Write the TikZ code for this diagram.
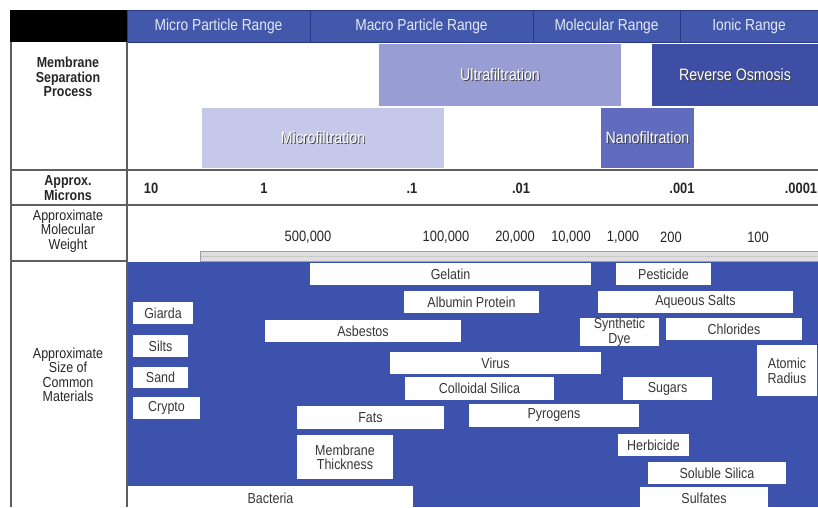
\documentclass[tikz,border=0pt]{standalone}
\usepackage{fontspec}
\setmainfont{Liberation Sans}[FakeStretch=0.86]
\usepackage{xcolor}
\usepackage{tikz}

\definecolor{hdrblue}{RGB}{66,88,170}
\definecolor{hdrline}{RGB}{40,56,130}
\definecolor{hdrtext}{RGB}{228,231,246}
\definecolor{matblue}{RGB}{60,82,172}
\definecolor{ultrablue}{RGB}{152,158,212}
\definecolor{microblue}{RGB}{198,200,233}
\definecolor{nanoblue}{RGB}{98,108,190}
\definecolor{roblue}{RGB}{62,78,165}
\definecolor{gridgray}{RGB}{95,95,95}
\definecolor{matgray}{RGB}{55,55,55}

\newcommand{\shadowtxt}[1]{\makebox[0pt][l]{\raisebox{-0.9pt}{\hspace{0.9pt}\textcolor{black!75}{#1}}}#1}

\begin{document}
\begin{tikzpicture}[
            x=1pt,y=-1pt,
            cell/.style={inner sep=0pt,outer sep=0pt},
            rangecell/.style={cell,fill=hdrblue,draw=hdrline,line width=1pt,text=hdrtext,
                font=\fontsize{16}{18}\selectfont},
            procbox/.style={cell,text=white,font=\fontsize{16.5}{18}\selectfont},
            matbox/.style={cell,fill=white,text=matgray,align=center,
                font=\fontsize{14.5}{14}\selectfont},
            rowlabel/.style={align=center,text=black!85,font=\fontsize{14.5}{14.5}\selectfont},
            scalelabel/.style={text=black!85,font=\fontsize{15}{15}\selectfont},
            gridline/.style={draw=gridgray,line width=1.1pt}
        ]

            \useasboundingbox[fill=white] (0,0) rectangle (818,507);

            % Header row
            \node[cell,fill=black,minimum width=117pt,minimum height=32pt] (corner) at (68.5,26) {};
            \foreach \name/\x/\w/\txt in {micro/218.5/183/Micro Particle Range,
                    macro/421.5/223/Macro Particle Range,
                    molec/606.5/147/Molecular Range,
                    ionic/749/138/Ionic Range}
                \node[rangecell,minimum width=\w pt,minimum height=32pt] (\name) at (\x,26) {\txt};

            % Materials area
            \fill[matblue] (127,262) rectangle (818,507);

            % Table lines
            \draw[gridline] (11,42) -- (11,507);
            \draw[gridline] (127,42) -- (127,507);
            \draw[gridline] (11,170) -- (818,170);
            \draw[gridline] (11,205) -- (818,205);
            \draw[gridline] (11,261) -- (127,261);

            % Membrane processes
            \node[procbox,fill=ultrablue,minimum width=242pt,minimum height=62pt] (ultra) at (500,75) {\shadowtxt{Ultrafiltration}};
            \node[procbox,fill=roblue,minimum width=166pt,minimum height=62pt] (ro) at (735,75) {\shadowtxt{Reverse Osmosis}};
            \node[procbox,fill=microblue,minimum width=242pt,minimum height=60pt] (microf) at (323,138) {\shadowtxt{Microfiltration}};
            \node[procbox,fill=nanoblue,minimum width=93pt,minimum height=60pt] (nanof) at (647.5,138) {\shadowtxt{Nanofiltration}};

            % Row labels
            \node[rowlabel,font=\fontsize{14.5}{14.5}\selectfont\bfseries] (proclabel) at (68,77) {Membrane\\Separation\\Process};
            \node[rowlabel,font=\fontsize{14.5}{14.5}\selectfont\bfseries] (micronlabel) at (68,188) {Approx.\\Microns};
            \node[rowlabel] (mwlabel) at (68,231) {Approximate\\Molecular\\Weight};
            \node[rowlabel] (sizelabel) at (68,375) {Approximate\\Size of\\Common\\Materials};

            % Micron scale
            \foreach \name/\x/\txt in {m10/151/10, m1/264/1, m01/412/.1, m001/521/.01,
                    m0001/682/.001, m00001/801/.0001}
                \node[scalelabel,font=\fontsize{15}{15}\selectfont\bfseries] (\name) at (\x,188) {\txt};

            % Molecular weight scale
            \draw[fill=gray!25,draw=gray!75] (200,251) rectangle (819,261);
            \draw[gray!60,dash pattern=on 1pt off 1pt] (201,256) -- (818,256);
            \foreach \name/\x/\txt in {w500k/308/{500,000}, w100k/446/{100,000}, w20k/515/{20,000},
                    w10k/571/{10,000}, w1k/623/{1,000}, w200/671/200, w100/758/100}
                \node[scalelabel] (\name) at (\x,237) {\txt};

            % Common materials
            \foreach \name/\x/\y/\w/\h/\txt in {
                    gelatin/450.5/274/281/22/Gelatin,
                    pesticide/663.5/274/95/22/Pesticide,
                    albumin/471.5/302/135/22/Albumin Protein,
                    aqsalts/695.5/302/195/22/Aqueous Salts,
                    giarda/163/313/60/22/Giarda,
                    asbestos/363/331/196/22/Asbestos,
                    dye/619.5/332/79/28/{Synthetic\\[1pt]Dye},
                    chlorides/734/329/136/22/Chlorides,
                    silts/160.5/346/55/22/Silts,
                    virus/495.5/363/211/22/Virus,
                    atomic/787/370.5/60/51/{Atomic\\[1pt]Radius},
                    sand/160.5/377.5/55/21/Sand,
                    colloid/479.5/388.5/149/23/Colloidal Silica,
                    sugars/667.5/388.5/89/23/Sugars,
                    crypto/166.5/408/67/22/Crypto,
                    fats/370.5/417.5/147/23/Fats,
                    pyrogens/554/415.5/170/23/Pyrogens,
                    thickness/345/457/96/44/{Membrane\\Thickness},
                    herbicide/653.5/445/71/22/Herbicide,
                    solsilica/717/473/138/22/Soluble Silica,
                    bacteria/270.5/498/285/24/Bacteria,
                    sulfates/704/498.5/128/23/Sulfates}
                \node[matbox,minimum width=\w pt,minimum height=\h pt] (\name) at (\x,\y) {\txt};

        \end{tikzpicture}
\end{document}
